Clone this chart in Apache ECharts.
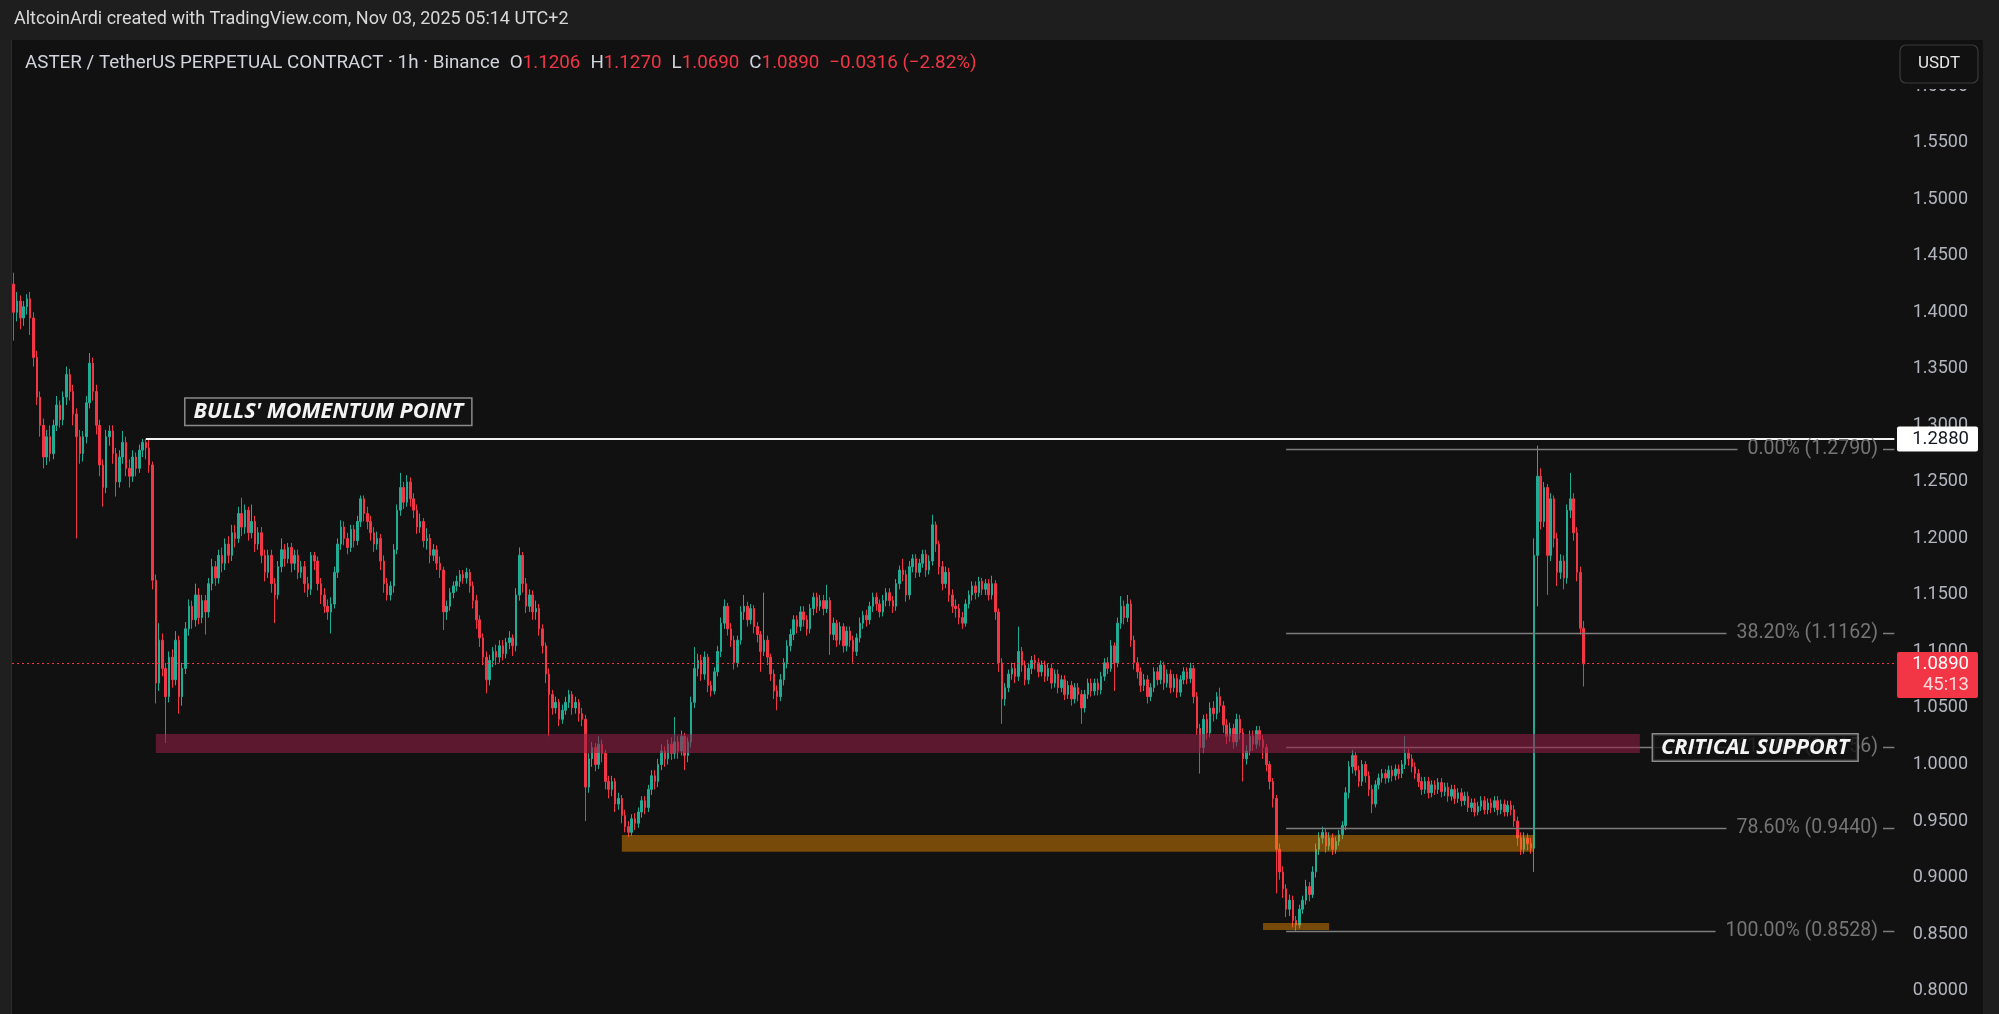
<!DOCTYPE html>
<html>
<head>
<meta charset="utf-8">
<script src="https://cdn.jsdelivr.net/npm/echarts@6/dist/echarts.min.js"></script>
<style>
html,body{margin:0;padding:0;background:#111111;}
#chart{width:1999px;height:1014px;}
</style>
</head>
<body>
<div id="chart"></div>
<script>
// ---------- DATA (hourly candles: [open, close, low, high]) ----------
const candlesOct14 = [ // idx 0-43
[1.425,1.400,1.375,1.435],[1.400,1.410,1.392,1.418],[1.410,1.395,1.385,1.415],[1.395,1.405,1.388,1.410],[1.405,1.412,1.398,1.416],
[1.412,1.395,1.380,1.418],[1.395,1.360,1.352,1.400],[1.360,1.325,1.318,1.366],[1.325,1.300,1.290,1.330],[1.300,1.272,1.262,1.306],
[1.272,1.290,1.265,1.296],[1.290,1.275,1.268,1.300],[1.275,1.300,1.270,1.305],[1.300,1.318,1.295,1.326],[1.318,1.305,1.298,1.322],
[1.305,1.325,1.300,1.330],[1.325,1.345,1.318,1.352],[1.345,1.330,1.322,1.350],[1.330,1.310,1.300,1.336],[1.310,1.290,1.200,1.315],
[1.290,1.275,1.266,1.296],[1.275,1.290,1.268,1.295],[1.290,1.320,1.284,1.326],[1.320,1.355,1.315,1.364],[1.355,1.330,1.322,1.360],
[1.330,1.300,1.292,1.336],[1.300,1.265,1.255,1.305],[1.265,1.245,1.228,1.270],[1.245,1.290,1.240,1.296],[1.290,1.295,1.282,1.300],
[1.295,1.275,1.266,1.300],[1.275,1.250,1.237,1.280],[1.250,1.272,1.245,1.278],[1.272,1.285,1.266,1.295],[1.285,1.262,1.255,1.290],
[1.262,1.255,1.245,1.270],[1.255,1.272,1.250,1.278],[1.272,1.262,1.255,1.276],[1.262,1.278,1.258,1.283],[1.278,1.285,1.272,1.288],
[1.285,1.280,1.270,1.288],[1.280,1.265,1.258,1.287],[1.265,1.163,1.155,1.268],[1.163,1.072,1.054,1.168]
];
const candlesOct16 = [ // idx 44-120
[1.072,1.110,1.065,1.125],[1.110,1.085,1.078,1.116],[1.085,1.060,1.019,1.090],[1.060,1.095,1.055,1.100],[1.095,1.075,1.068,1.102],
[1.075,1.110,1.070,1.118],[1.110,1.060,1.045,1.114],[1.060,1.085,1.052,1.090],[1.085,1.120,1.080,1.126],[1.120,1.140,1.114,1.146],
[1.140,1.128,1.120,1.145],[1.128,1.150,1.122,1.160],[1.150,1.130,1.124,1.156],[1.130,1.145,1.125,1.150],[1.145,1.135,1.115,1.150],
[1.135,1.160,1.130,1.165],[1.160,1.175,1.154,1.182],[1.175,1.165,1.158,1.180],[1.165,1.185,1.160,1.190],[1.185,1.178,1.170,1.192],
[1.178,1.195,1.172,1.200],[1.195,1.185,1.178,1.202],[1.185,1.205,1.180,1.212],[1.205,1.200,1.192,1.212],[1.200,1.222,1.196,1.228],
[1.222,1.210,1.202,1.236],[1.210,1.225,1.204,1.230],[1.225,1.205,1.198,1.228],[1.205,1.215,1.200,1.230],[1.215,1.195,1.188,1.220],
[1.195,1.205,1.190,1.210],[1.205,1.185,1.178,1.210],[1.185,1.170,1.162,1.190],[1.170,1.185,1.165,1.190],[1.185,1.160,1.152,1.190],
[1.160,1.150,1.125,1.165],[1.150,1.175,1.146,1.180],[1.175,1.190,1.170,1.200],[1.190,1.182,1.175,1.195],[1.182,1.192,1.178,1.196],
[1.192,1.178,1.170,1.196],[1.178,1.185,1.172,1.190],[1.185,1.170,1.164,1.190],[1.170,1.175,1.165,1.180],[1.175,1.160,1.152,1.180],
[1.160,1.155,1.148,1.166],[1.155,1.185,1.150,1.188],[1.185,1.180,1.172,1.188],[1.180,1.160,1.154,1.184],[1.160,1.150,1.142,1.165],
[1.150,1.140,1.134,1.156],[1.140,1.135,1.128,1.146],[1.135,1.142,1.116,1.148],[1.142,1.170,1.138,1.175],[1.170,1.195,1.165,1.200],
[1.195,1.210,1.190,1.216],[1.210,1.200,1.194,1.215],[1.200,1.192,1.186,1.205],[1.192,1.208,1.188,1.212],[1.208,1.198,1.192,1.212],
[1.198,1.215,1.194,1.220],[1.215,1.235,1.210,1.238],[1.235,1.222,1.215,1.238],[1.222,1.215,1.208,1.228],[1.215,1.205,1.198,1.220],
[1.205,1.195,1.188,1.210],[1.195,1.200,1.190,1.206],[1.200,1.180,1.172,1.204],[1.180,1.160,1.152,1.185],[1.160,1.150,1.145,1.165],
[1.150,1.158,1.145,1.162],[1.158,1.190,1.152,1.195],[1.190,1.225,1.186,1.230],[1.225,1.245,1.220,1.258],[1.245,1.232,1.226,1.250],
[1.232,1.250,1.228,1.256],[1.250,1.235,1.228,1.254]
];
const candlesOct19 = [ // idx 121-200
[1.235,1.225,1.218,1.240],[1.225,1.210,1.204,1.230],[1.210,1.215,1.205,1.222],[1.215,1.198,1.192,1.218],[1.198,1.200,1.190,1.209],
[1.200,1.185,1.178,1.204],[1.185,1.190,1.180,1.195],[1.190,1.178,1.172,1.194],[1.178,1.172,1.165,1.184],[1.172,1.135,1.119,1.175],
[1.135,1.140,1.128,1.145],[1.140,1.152,1.136,1.156],[1.152,1.158,1.147,1.162],[1.158,1.162,1.153,1.167],[1.162,1.168,1.157,1.172],
[1.168,1.165,1.160,1.172],[1.165,1.170,1.160,1.174],[1.170,1.158,1.152,1.173],[1.158,1.145,1.138,1.162],[1.145,1.128,1.120,1.150],
[1.128,1.112,1.104,1.132],[1.112,1.095,1.088,1.116],[1.095,1.075,1.063,1.100],[1.075,1.092,1.070,1.097],[1.092,1.100,1.086,1.104],
[1.100,1.095,1.088,1.106],[1.095,1.105,1.090,1.110],[1.105,1.098,1.092,1.110],[1.098,1.108,1.094,1.112],[1.108,1.112,1.102,1.118],
[1.112,1.105,1.096,1.115],[1.105,1.150,1.100,1.156],[1.150,1.185,1.145,1.192],[1.185,1.160,1.152,1.188],[1.160,1.140,1.134,1.165],
[1.140,1.150,1.135,1.155],[1.150,1.135,1.128,1.154],[1.135,1.138,1.128,1.145],[1.138,1.120,1.114,1.142],[1.120,1.105,1.098,1.124],
[1.105,1.080,1.072,1.108],[1.080,1.062,1.025,1.085],[1.062,1.050,1.044,1.066],[1.050,1.055,1.045,1.060],[1.055,1.040,1.034,1.058],
[1.040,1.048,1.036,1.053],[1.048,1.055,1.044,1.060],[1.055,1.062,1.050,1.066],[1.062,1.050,1.044,1.065],[1.050,1.055,1.045,1.060],
[1.055,1.045,1.038,1.058],[1.045,1.040,1.034,1.050],[1.040,0.980,0.950,1.044],[0.980,1.005,0.975,1.010],[1.005,1.015,0.998,1.020],
[1.015,1.000,0.994,1.019],[1.000,1.018,0.996,1.025],[1.018,1.010,1.002,1.022],[1.010,0.985,0.978,1.013],[0.985,0.978,0.970,0.990],
[0.978,0.985,0.972,0.990],[0.985,0.965,0.958,0.988],[0.965,0.970,0.960,0.975],[0.970,0.955,0.948,0.973],[0.955,0.945,0.940,0.960],
[0.945,0.940,0.936,0.950],[0.940,0.952,0.937,0.956],[0.952,0.948,0.942,0.957],[0.948,0.958,0.944,0.962],[0.958,0.968,0.953,0.972],
[0.968,0.962,0.956,0.972],[0.962,0.978,0.958,0.982],[0.978,0.990,0.973,0.995],[0.990,0.985,0.978,0.995],[0.985,1.000,0.980,1.005],
[1.000,1.012,0.995,1.018],[1.012,1.005,0.998,1.016],[1.005,1.018,1.000,1.022],[1.018,1.010,1.004,1.024],[1.010,1.020,1.005,1.042]
];
const candlesOct22 = [ // idx 201-300
[1.020,1.012,1.005,1.025],[1.012,1.025,1.008,1.030],[1.025,1.008,0.995,1.028],[1.008,1.020,1.002,1.024],[1.020,1.055,1.015,1.060],
[1.055,1.085,1.050,1.104],[1.085,1.092,1.078,1.098],[1.092,1.080,1.074,1.097],[1.080,1.095,1.075,1.100],[1.095,1.070,1.064,1.098],
[1.070,1.065,1.060,1.074],[1.065,1.082,1.062,1.086],[1.082,1.100,1.078,1.105],[1.100,1.125,1.095,1.130],[1.125,1.140,1.120,1.146],
[1.140,1.120,1.114,1.143],[1.120,1.110,1.104,1.125],[1.110,1.090,1.084,1.114],[1.090,1.110,1.086,1.114],[1.110,1.135,1.106,1.140],
[1.135,1.140,1.128,1.150],[1.140,1.128,1.122,1.144],[1.128,1.138,1.124,1.142],[1.138,1.122,1.116,1.141],[1.122,1.115,1.108,1.126],
[1.115,1.100,1.082,1.118],[1.100,1.110,1.096,1.152],[1.110,1.095,1.088,1.114],[1.095,1.080,1.074,1.098],[1.080,1.065,1.058,1.084],
[1.065,1.060,1.048,1.070],[1.060,1.075,1.056,1.080],[1.075,1.090,1.070,1.094],[1.090,1.105,1.085,1.110],[1.105,1.115,1.100,1.120],
[1.115,1.128,1.110,1.132],[1.128,1.122,1.116,1.132],[1.122,1.135,1.118,1.140],[1.135,1.128,1.122,1.140],[1.128,1.120,1.114,1.132],
[1.120,1.138,1.116,1.142],[1.138,1.148,1.132,1.152],[1.148,1.140,1.134,1.152],[1.140,1.145,1.136,1.150],[1.145,1.138,1.132,1.150],
[1.138,1.145,1.134,1.159],[1.145,1.115,1.097,1.148],[1.115,1.125,1.110,1.130],[1.125,1.110,1.104,1.128],[1.110,1.122,1.106,1.126],
[1.122,1.105,1.099,1.125],[1.105,1.118,1.100,1.122],[1.118,1.110,1.104,1.122],[1.110,1.100,1.090,1.114],[1.100,1.112,1.096,1.116],
[1.112,1.125,1.108,1.130],[1.125,1.132,1.120,1.136],[1.132,1.128,1.122,1.137],[1.128,1.140,1.124,1.144],[1.140,1.148,1.135,1.152],
[1.148,1.142,1.136,1.152],[1.142,1.135,1.130,1.146],[1.135,1.145,1.131,1.150],[1.145,1.152,1.140,1.156],[1.152,1.145,1.140,1.156],
[1.145,1.140,1.134,1.149],[1.140,1.160,1.136,1.164],[1.160,1.172,1.155,1.176],[1.172,1.168,1.162,1.182],[1.168,1.150,1.144,1.172],
[1.150,1.175,1.146,1.180],[1.175,1.182,1.170,1.186],[1.182,1.170,1.165,1.186],[1.170,1.178,1.166,1.182],[1.178,1.186,1.174,1.190],
[1.186,1.172,1.166,1.190],[1.172,1.180,1.168,1.185],[1.180,1.212,1.176,1.221],[1.212,1.195,1.188,1.215],[1.195,1.175,1.168,1.198],
[1.175,1.160,1.154,1.180],[1.160,1.170,1.156,1.175],[1.170,1.150,1.144,1.174],[1.150,1.140,1.134,1.155],[1.140,1.138,1.130,1.146],
[1.138,1.130,1.124,1.142],[1.130,1.125,1.120,1.135],[1.125,1.142,1.122,1.146],[1.142,1.150,1.138,1.154],[1.150,1.158,1.145,1.162],
[1.158,1.152,1.146,1.162],[1.152,1.162,1.148,1.166],[1.162,1.155,1.150,1.165],[1.155,1.160,1.150,1.164],[1.160,1.150,1.145,1.164],
[1.150,1.160,1.146,1.167],[1.160,1.135,1.128,1.163],[1.135,1.090,1.082,1.138],[1.090,1.058,1.036,1.094],[1.058,1.068,1.052,1.072]
];
const candlesOct26 = [ // idx 301-400
[1.068,1.080,1.064,1.084],[1.080,1.085,1.075,1.090],[1.085,1.078,1.072,1.090],[1.078,1.100,1.074,1.122],[1.100,1.088,1.082,1.104],
[1.088,1.075,1.070,1.092],[1.075,1.085,1.071,1.090],[1.085,1.092,1.080,1.096],[1.092,1.090,1.084,1.097],[1.090,1.082,1.077,1.094],
[1.082,1.088,1.078,1.092],[1.088,1.078,1.073,1.092],[1.078,1.085,1.074,1.089],[1.085,1.072,1.067,1.089],[1.072,1.080,1.068,1.084],
[1.080,1.068,1.063,1.084],[1.068,1.075,1.064,1.079],[1.075,1.062,1.057,1.079],[1.062,1.070,1.058,1.074],[1.070,1.058,1.052,1.074],
[1.058,1.068,1.054,1.072],[1.068,1.062,1.056,1.072],[1.062,1.050,1.036,1.066],[1.050,1.062,1.046,1.066],[1.062,1.072,1.058,1.076],
[1.072,1.065,1.060,1.076],[1.065,1.072,1.061,1.076],[1.072,1.066,1.061,1.076],[1.066,1.078,1.062,1.082],[1.078,1.090,1.074,1.094],
[1.090,1.085,1.080,1.095],[1.085,1.105,1.082,1.110],[1.105,1.090,1.065,1.108],[1.090,1.125,1.086,1.130],[1.125,1.140,1.120,1.149],
[1.140,1.130,1.124,1.145],[1.130,1.142,1.126,1.150],[1.142,1.110,1.104,1.146],[1.110,1.090,1.084,1.114],[1.090,1.082,1.076,1.095],
[1.082,1.070,1.064,1.086],[1.070,1.075,1.065,1.080],[1.075,1.060,1.054,1.079],[1.060,1.068,1.056,1.072],[1.068,1.082,1.064,1.086],
[1.082,1.075,1.070,1.086],[1.075,1.088,1.071,1.092],[1.088,1.072,1.066,1.091],[1.072,1.080,1.068,1.084],[1.080,1.068,1.063,1.084],
[1.068,1.076,1.064,1.080],[1.076,1.064,1.059,1.080],[1.064,1.075,1.060,1.079],[1.075,1.082,1.071,1.086],[1.082,1.076,1.071,1.086],
[1.076,1.085,1.072,1.090],[1.085,1.060,1.054,1.088],[1.060,1.032,1.026,1.064],[1.032,1.015,0.992,1.036],[1.015,1.040,1.010,1.044],
[1.040,1.028,1.022,1.045],[1.028,1.050,1.024,1.055],[1.050,1.045,1.038,1.056],[1.045,1.060,1.040,1.064],[1.060,1.052,1.046,1.068],
[1.052,1.035,1.028,1.056],[1.035,1.025,1.018,1.040],[1.025,1.032,1.020,1.037],[1.032,1.020,1.014,1.036],[1.020,1.040,1.016,1.045],
[1.040,1.028,1.022,1.044],[1.028,1.005,0.985,1.032],[1.005,1.012,1.000,1.017],[1.012,1.025,1.008,1.030],[1.025,1.018,1.012,1.030],
[1.018,1.030,1.014,1.034],[1.030,1.022,1.016,1.034],[1.022,1.015,1.005,1.026],[1.015,1.000,0.994,1.018],[1.000,0.985,0.978,1.003],
[0.985,0.970,0.962,0.988],[0.970,0.925,0.886,0.973],[0.925,0.905,0.898,0.930],[0.905,0.890,0.882,0.910],[0.890,0.872,0.865,0.894],
[0.872,0.880,0.866,0.885],[0.880,0.862,0.856,0.884],[0.862,0.858,0.8528,0.866],[0.858,0.872,0.855,0.876],[0.872,0.880,0.868,0.884],
[0.880,0.892,0.876,0.898],[0.892,0.885,0.879,0.896],[0.885,0.905,0.882,0.910],[0.905,0.925,0.900,0.930],[0.925,0.935,0.920,0.940],
[0.935,0.940,0.930,0.945],[0.940,0.928,0.922,0.943],[0.928,0.935,0.924,0.940],[0.935,0.925,0.920,0.939],[0.925,0.932,0.921,0.936]
];
const candlesOct31 = [ // idx 401-475
[0.932,0.938,0.928,0.942],[0.938,0.946,0.934,0.950],[0.946,0.975,0.942,0.980],[0.975,0.998,0.970,1.003],[0.998,1.008,0.992,1.013],
[1.008,0.995,0.990,1.011],[0.995,0.985,0.980,0.999],[0.985,1.000,0.981,1.004],[1.000,0.990,0.984,1.003],[0.990,0.978,0.972,0.994],
[0.978,0.965,0.957,0.982],[0.965,0.982,0.962,0.986],[0.982,0.988,0.978,0.992],[0.988,0.992,0.984,0.996],[0.992,0.988,0.983,0.996],
[0.988,0.995,0.984,0.999],[0.995,0.990,0.985,0.999],[0.990,0.996,0.986,1.000],[0.996,0.992,0.987,1.000],[0.992,1.000,0.988,1.004],
[1.000,1.010,0.996,1.025],[1.010,1.005,0.999,1.014],[1.005,0.998,0.993,1.009],[0.998,0.992,0.987,1.002],[0.992,0.985,0.980,0.996],
[0.985,0.978,0.973,0.989],[0.978,0.985,0.974,0.989],[0.985,0.975,0.970,0.989],[0.975,0.982,0.971,0.986],[0.982,0.978,0.973,0.986],
[0.978,0.984,0.974,0.988],[0.984,0.976,0.971,0.988],[0.976,0.980,0.972,0.984],[0.980,0.972,0.967,0.984],[0.972,0.978,0.968,0.982],
[0.978,0.970,0.965,0.982],[0.970,0.975,0.966,0.979],[0.975,0.968,0.963,0.979],[0.968,0.972,0.964,0.976],[0.972,0.962,0.958,0.976],
[0.962,0.966,0.958,0.970],[0.966,0.958,0.954,0.970],[0.958,0.963,0.955,0.967],[0.963,0.968,0.959,0.972],[0.968,0.960,0.956,0.972],
[0.960,0.966,0.956,0.970],[0.966,0.962,0.957,0.970],[0.962,0.968,0.958,0.972],[0.968,0.960,0.955,0.972],[0.960,0.965,0.956,0.969],
[0.965,0.958,0.954,0.969],[0.958,0.964,0.954,0.968],[0.964,0.960,0.955,0.968],[0.960,0.950,0.945,0.964],[0.950,0.935,0.928,0.954],
[0.935,0.925,0.920,0.940],[0.925,0.935,0.921,0.940],[0.935,0.930,0.924,0.939],[0.930,0.926,0.921,0.935],[0.926,1.185,0.905,1.200],
[1.185,1.255,1.140,1.282],[1.255,1.215,1.208,1.262],[1.215,1.245,1.210,1.250],[1.245,1.185,1.150,1.248],[1.185,1.235,1.180,1.240],
[1.235,1.200,1.192,1.238],[1.200,1.170,1.158,1.205],[1.170,1.180,1.164,1.186],[1.180,1.165,1.155,1.185],[1.165,1.225,1.160,1.230],
[1.225,1.235,1.218,1.258],[1.235,1.205,1.198,1.240],[1.205,1.170,1.162,1.210],[1.170,1.1206,1.115,1.175],[1.1206,1.089,1.069,1.127]
];

// price axis ticks
const priceTicks = [0.80,0.85,0.90,0.95,1.00,1.05,1.10,1.15,1.20,1.25,1.30,1.35,1.40,1.45,1.50,1.55,1.60];
const priceMin = 0.7793, priceMax = 1.6409;
const futureSlots = 94;                 // empty hours to the right of the last candle
const countdown = '45:13';

// annotations (data space)
const momentumLevel = 1.2880, momentumStart = 40;
const momentumLabel = { text: "BULLS' MOMENTUM POINT", at: 52, price: 1.312 };
const supportLabel = { text: 'CRITICAL SUPPORT', at: 496, price: 1.0151 };
const fibHigh = 1.2790, fibLow = 0.8528, fibStart = 385;
const fibRatios = [0, 0.382, 0.618, 0.786, 1];
const zoneStart = [43, 184, 378];
const zoneEnd = [492, 460, 398];
const zoneLow = [1.0102, 0.9228, 0.8536];
const zoneHigh = [1.0270, 0.9377, 0.8598];
const zoneColors = ['rgba(150,30,70,0.56)', 'rgba(255,150,0,0.43)', 'rgba(255,150,0,0.43)'];

const headerText = 'AltcoinArdi created with TradingView.com, Nov 03, 2025 05:14 UTC+2';
const symbolText = 'ASTER / TetherUS PERPETUAL CONTRACT \u00b7 1h \u00b7 Binance';

// ---------- BUILD ----------
const candles = [].concat(candlesOct14, candlesOct16, candlesOct19, candlesOct22, candlesOct26, candlesOct31);
const totalSlots = candles.length + futureSlots;
const startMs = Date.UTC(2025, 9, 14, 10);
const categories = [];
for (let i = 0; i < totalSlots; i++) {
  const d = new Date(startMs + i * 3600000);
  categories.push((d.getUTCMonth() + 1) + '/' + d.getUTCDate() + ' ' + d.getUTCHours() + ':00');
}
const lastIdx = totalSlots - 1;
const last = candles[candles.length - 1];
const lastClose = last[1];
const UP = '#22ab94', DOWN = '#f23645';
const minus = s => s.replace('-', '\u2212');
const chg = last[1] - last[0];
const legendText =
  '{t|' + symbolText + '}  {t|O}{v|' + last[0].toFixed(4) + '}  {t|H}{v|' + last[3].toFixed(4) +
  '}  {t|L}{v|' + last[2].toFixed(4) + '}  {t|C}{v|' + last[1].toFixed(4) + '}  {v|' +
  minus(chg.toFixed(4)) + ' (' + minus((chg / last[0] * 100).toFixed(2)) + '%)}';

const fibLines = fibRatios.map(r => {
  const p = fibHigh - r * (fibHigh - fibLow);
  return [{ coord: [fibStart, p] }, { coord: [lastIdx, p] }];
});

const chart = echarts.init(document.getElementById('chart'), null, { renderer: 'canvas' });
const GRID = { left: 12, right: 103, top: 40, bottom: 0 };
const FONT = 'Roboto';

chart.setOption({
  animation: false,
  backgroundColor: '#111111',
  title: [
    { text: headerText, left: 14, top: 10, padding: 0,
      textStyle: { color: '#d9d9d9', fontSize: 18, fontWeight: 'normal', fontFamily: FONT } },
    { text: legendText, left: 25, top: 54, padding: 0,
      textStyle: { fontWeight: 'normal', rich: {
        t: { color: '#d1d4dc', fontSize: 18.8, fontWeight: 'normal', fontFamily: FONT },
        v: { color: '#f23645', fontSize: 18.8, fontWeight: 'normal', fontFamily: FONT } } } }
  ],
  grid: Object.assign({ containLabel: false, outerBoundsMode: 'none' }, GRID),
  xAxis: {
    type: 'category', data: categories, boundaryGap: true, show: false,
    axisLine: { show: false }, axisTick: { show: false }, axisLabel: { show: false }, splitLine: { show: false }
  },
  yAxis: {
    type: 'value', position: 'right', min: priceMin, max: priceMax, scale: true,
    axisLine: { show: false }, axisTick: { show: false }, splitLine: { show: false },
    axisLabel: {
      customValues: priceTicks, formatter: v => v.toFixed(4),
      color: '#b2b5be', fontSize: 18, fontFamily: FONT, align: 'right', margin: 72,
      showMinLabel: true, showMaxLabel: true
    }
  },
  series: [
    {
      type: 'candlestick', data: candles, barWidth: 2, z: 2,
      itemStyle: { color: UP, color0: DOWN, borderColor: UP, borderColor0: DOWN, borderWidth: 1 },
      markLine: {
        silent: true, symbol: ['none', 'none'], animation: false, label: { show: false },
        data: [
          [{ coord: [momentumStart, momentumLevel], lineStyle: { color: '#f2f2f2', width: 2.2, type: 'solid' } },
           { coord: [lastIdx, momentumLevel] }],
          { yAxis: lastClose, lineStyle: { color: '#f23645', width: 1, type: [2, 3] } }
        ].concat(fibLines.map(l => [Object.assign({ lineStyle: { color: '#7d7d7d', width: 1.4, type: 'solid' } }, l[0]), l[1]]))
      }
    },
    {
      type: 'custom', z: 5, silent: true,
      data: zoneStart.map((s, i) => [s, zoneEnd[i], zoneLow[i], zoneHigh[i]]),
      encode: { x: [0, 1], y: [2, 3] },
      renderItem: (params, api) => {
        const a = api.coord([api.value(0), api.value(3)]);
        const b = api.coord([api.value(1), api.value(2)]);
        return { type: 'rect', shape: { x: a[0], y: a[1], width: b[0] - a[0], height: b[1] - a[1] },
                 style: { fill: zoneColors[params.dataIndex] } };
      }
    }
  ]
});

// ---------- overlays positioned through the chart's own scales ----------
const toY = v => chart.convertToPixel({ yAxisIndex: 0 }, v);
const toX = i => chart.convertToPixel({ xAxisIndex: 0 }, i);
const plotRight = 1999 - GRID.right;
const W = 1999, H = 1014;
const g = [];
// frame
g.push({ type: 'rect', z: 1, silent: true, shape: { x: 0, y: 0, width: W, height: 40 }, style: { fill: '#1e1e1e' } });
g.push({ type: 'rect', z: 1, silent: true, shape: { x: 0, y: 40, width: 11, height: H - 40 }, style: { fill: '#1f1f1f' } });
g.push({ type: 'rect', z: 1, silent: true, shape: { x: 11, y: 40, width: 1, height: H - 40 }, style: { fill: '#2c2c2c' } });
g.push({ type: 'rect', z: 1, silent: true, shape: { x: 1983, y: 40, width: W - 1983, height: H - 40 }, style: { fill: '#1e1e1e' } });

// fib labels (the label background masks the level line beneath it)
fibRatios.forEach(r => {
  const p = fibHigh - r * (fibHigh - fibLow);
  g.push({ type: 'text', z: 80, silent: true, style: {
    text: (r * 100).toFixed(2) + '% (' + p.toFixed(4) + ')', x: plotRight - 13, y: toY(p),
    align: 'right', verticalAlign: 'middle', fill: '#757575', font: '19.5px ' + FONT, lineHeight: 15,
    backgroundColor: '#111111', padding: [0, 5, 0, 10] } });
});

// annotation boxes
[momentumLabel, supportLabel].forEach((lab, k) => {
  g.push({ type: 'text', z: 90, silent: true, style: {
    text: lab.text, x: toX(lab.at), y: toY(lab.price), align: 'left', verticalAlign: 'middle',
    fill: '#f4f4f4', font: 'italic 700 21.6px "Open Sans"', lineHeight: 22,
    backgroundColor: k === 0 ? '#121212' : 'rgba(17,17,17,0.82)', borderColor: '#8a8a8a', borderWidth: 1.5,
    padding: [2, 8, 2, 8] } });
});

// price tags on the axis
const tagLeft = plotRight + 1, tagW = 81;
const yMom = toY(momentumLevel);
g.push({ type: 'rect', z: 100, silent: true, shape: { x: tagLeft, y: yMom - 12.5, width: tagW, height: 25, r: 2 }, style: { fill: '#ffffff' } });
g.push({ type: 'text', z: 101, silent: true, style: { text: momentumLevel.toFixed(4), x: 1969, y: yMom, align: 'right', verticalAlign: 'middle', fill: '#131722', font: '18.5px ' + FONT } });
const yLast = toY(lastClose);
g.push({ type: 'rect', z: 100, silent: true, shape: { x: tagLeft, y: yLast - 12, width: tagW, height: 46, r: 2 }, style: { fill: '#f23645' } });
g.push({ type: 'text', z: 101, silent: true, style: { text: lastClose.toFixed(4), x: 1969, y: yLast, align: 'right', verticalAlign: 'middle', fill: '#ffffff', font: '18.5px ' + FONT } });
g.push({ type: 'text', z: 101, silent: true, style: { text: countdown, x: 1969, y: yLast + 21, align: 'right', verticalAlign: 'middle', fill: '#ffd9dc', font: '18.5px ' + FONT } });

// currency button (its panel also covers the top of the scale)
g.push({ type: 'rect', z: 99, silent: true, shape: { x: plotRight + 1, y: 40, width: 1983 - plotRight - 1, height: 49 }, style: { fill: '#111111' } });
g.push({ type: 'rect', z: 100, silent: true, shape: { x: 1900, y: 45, width: 78, height: 38, r: 6 }, style: { fill: '#111111', stroke: '#3a3a3a', lineWidth: 1.2 } });
g.push({ type: 'text', z: 101, silent: true, style: { text: 'USDT', x: 1939, y: 64, align: 'center', verticalAlign: 'middle', fill: '#e6e6e6', font: '17px ' + FONT } });

chart.setOption({ graphic: g });
</script>
</body>
</html>
